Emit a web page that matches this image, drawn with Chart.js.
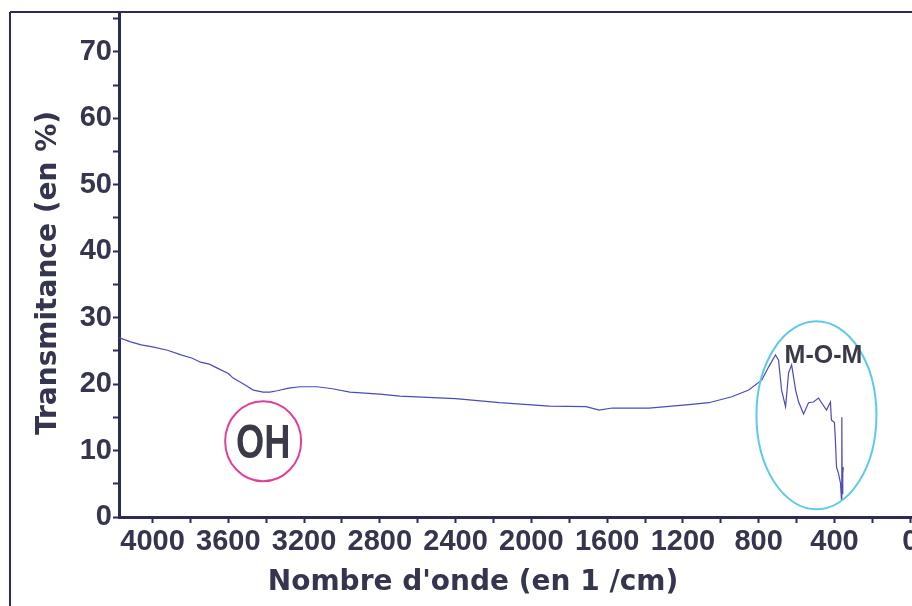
<!DOCTYPE html>
<html>
<head>
<meta charset="utf-8">
<script src="https://cdn.jsdelivr.net/npm/chart.js@4.4.1/dist/chart.umd.min.js"></script>
<style>
  html, body { margin: 0; padding: 0; background: #ffffff; overflow: hidden; }
  #wrap { width: 912px; height: 606px; overflow: hidden; position: relative; }
  canvas { display: block; }
</style>
</head>
<body>
<div id="wrap"><canvas id="c" width="940" height="606"></canvas></div>
<script>
// ---- Data ----
const wavenumbers = [
  4177, 4120, 4060, 4000, 3921, 3850, 3790, 3747, 3700, 3658, 3600, 3574, 3520, 3468,
  3416, 3380, 3342, 3280, 3221, 3132, 3050, 2958, 2800, 2695, 2400, 2168, 1905,
  1711, 1642, 1574, 1379, 1168, 1063, 942, 853, 784, 747, 711, 695, 679, 658,
  642, 626, 605, 589, 563, 537, 511, 484, 468, 442, 421, 416, 400, 395, 389,
  379, 368, 363, 361, 359, 356, 353
];
const transmittance = [
  27.0, 26.4, 25.9, 25.6, 25.1, 24.4, 23.9, 23.3, 23.0, 22.4, 21.6, 20.9, 20.0, 19.1,
  18.8, 18.8, 19.0, 19.4, 19.6, 19.6, 19.3, 18.8, 18.5, 18.2, 17.8, 17.2, 16.7,
  16.6, 16.1, 16.4, 16.4, 16.9, 17.2, 18.1, 19.1, 20.6, 22.6, 24.4, 23.6, 19.1, 16.6,
  21.7, 22.9, 19.1, 17.3, 15.5, 17.2, 17.3, 17.9, 17.2, 16.1, 17.3, 14.6, 14.2, 11.6, 7.5,
  6.6, 5.1, 2.6, 15.0, 3.5, 6.6, 7.5
];
const yTickLabels = [0, 10, 20, 30, 40, 50, 60, 70];
const xTickLabels = [4000, 3600, 3200, 2800, 2400, 2000, 1600, 1200, 800, 400, 0];
const xTitle = "Nombre d'onde (en 1 /cm)";
const yTitle = "Transmitance (en %)";
// annotation anchors in data units
const ohLabel = { text: "OH", x: 3416, y: 11.4 };
const momLabel = { text: "M-O-M", x: 458, y: 24.3 };
const momEllipse = { x: 495, y: 15.3 };

const AXIS = '#2b2b55';
const TEXT = '#35354f';
const TICKFONT = '"Liberation Sans Narrow", "Liberation Sans", Arial, sans-serif';

const framePlugin = {
  id: 'frame',
  afterDraw(chart) {
    const ctx = chart.ctx, a = chart.chartArea;
    ctx.save();
    ctx.strokeStyle = AXIS;
    ctx.lineWidth = 2;
    ctx.beginPath();
    ctx.moveTo(10, a.top);
    ctx.lineTo(chart.width, a.top);
    ctx.moveTo(10, a.top);
    ctx.lineTo(10, chart.height);
    ctx.stroke();

    // axis titles
    ctx.fillStyle = TEXT;
    ctx.font = 'bold 28px "DejaVu Sans", sans-serif';
    ctx.textAlign = 'center';
    ctx.textBaseline = 'middle';
    ctx.fillText(xTitle, 473, 583);
    ctx.save();
    ctx.translate(49, 273);
    ctx.rotate(-Math.PI / 2);
    ctx.fillText(yTitle, 0, 0);
    ctx.restore();

    const xs = chart.scales.x, ys = chart.scales.y;
    // OH circle + text
    const ox = xs.getPixelForValue(ohLabel.x), oy = ys.getPixelForValue(ohLabel.y);
    ctx.strokeStyle = '#e0409c';
    ctx.lineWidth = 2;
    ctx.beginPath();
    ctx.ellipse(ox, oy, 38, 40, 0, 0, Math.PI * 2);
    ctx.stroke();
    ctx.fillStyle = '#3a3a48';
    ctx.save();
    ctx.translate(ox, oy + 1);
    ctx.scale(0.74, 1);
    ctx.font = 'bold 49px "Liberation Sans", Arial, sans-serif';
    ctx.textAlign = 'center';
    ctx.textBaseline = 'middle';
    ctx.fillText(ohLabel.text, 0, 2);
    ctx.restore();

    // M-O-M ellipse + text
    const ex = xs.getPixelForValue(momEllipse.x), ey = ys.getPixelForValue(momEllipse.y);
    ctx.strokeStyle = '#5ccbea';
    ctx.lineWidth = 2;
    ctx.beginPath();
    ctx.ellipse(ex, ey, 60, 94, 0, 0, Math.PI * 2);
    ctx.stroke();
    const mx = xs.getPixelForValue(momLabel.x), my = ys.getPixelForValue(momLabel.y);
    ctx.fillStyle = '#3a3a48';
    ctx.font = 'bold 25px "Liberation Sans", Arial, sans-serif';
    ctx.textAlign = 'center';
    ctx.textBaseline = 'middle';
    ctx.fillText(momLabel.text, mx, my + 1);
    ctx.restore();
  }
};

new Chart(document.getElementById('c'), {
  type: 'scatter',
  data: {
    datasets: [{
      data: wavenumbers.map((w, i) => ({ x: w, y: transmittance[i] })),
      showLine: true,
      borderColor: '#4a4abb',
      borderWidth: 1.2,
      pointRadius: 0,
      tension: 0,
      fill: false
    }]
  },
  options: {
    responsive: false,
    animation: false,
    layout: { padding: { top: 12, left: 0, right: 1, bottom: 0 } },
    plugins: { legend: { display: false }, tooltip: { enabled: false } },
    scales: {
      x: {
        type: 'linear',
        reverse: true,
        min: -152,
        max: 4177,
        afterFit(s) { s.height = 89; s.paddingLeft = 0; s.paddingRight = 0; },
        border: { color: AXIS, width: 3 },
        grid: { drawOnChartArea: false, drawTicks: true, tickLength: 6, tickColor: AXIS, tickWidth: 2 },
        ticks: {
          stepSize: 200,
          includeBounds: false,
          autoSkip: false,
          maxRotation: 0,
          padding: 2,
          color: TEXT,
          font: { family: TICKFONT, size: 29, weight: 'bold' },
          callback: (v) => xTickLabels.includes(v) ? String(v) : ''
        },
        title: { display: false }
      },
      y: {
        type: 'linear',
        min: 0,
        max: 76,
        afterFit(s) { s.width = 119; s.paddingTop = 0; s.paddingBottom = 0; },
        border: { color: AXIS, width: 3 },
        grid: { drawOnChartArea: false, drawTicks: true, tickLength: 6, tickColor: AXIS, tickWidth: 2 },
        ticks: {
          stepSize: 5,
          includeBounds: false,
          autoSkip: false,
          padding: 1,
          color: TEXT,
          font: { family: TICKFONT, size: 29, weight: 'bold' },
          callback: (v) => yTickLabels.includes(v) ? String(v) : ''
        },
        title: { display: false }
      }
    }
  },
  plugins: [framePlugin]
});
</script>
</body>
</html>
